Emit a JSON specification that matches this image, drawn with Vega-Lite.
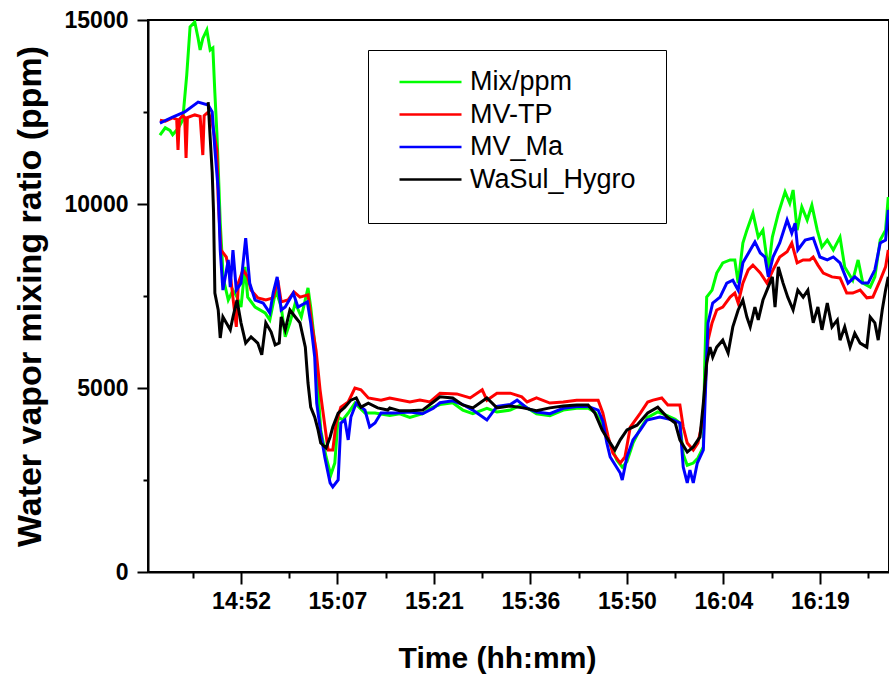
{
  "$schema": "https://vega.github.io/schema/vega-lite/v6.json",
  "width": 741,
  "height": 552,
  "autosize": {"type": "none"},
  "padding": {"left": 148, "top": 20, "right": 0, "bottom": 112},
  "background": "white",
  "config": {"font": "Liberation Sans", "view": {"stroke": "black", "strokeWidth": 2}},
  "data": {"values": [
    {"s":"Mix/ppm","t":880.7,"v":11870},{"s":"Mix/ppm","t":881.5,"v":12070},{"s":"Mix/ppm","t":882.2,"v":12000},{"s":"Mix/ppm","t":882.6,"v":11880},{"s":"Mix/ppm","t":883.4,"v":12050},{"s":"Mix/ppm","t":884.1,"v":12280},{"s":"Mix/ppm","t":884.7,"v":13500},{"s":"Mix/ppm","t":885.2,"v":14810},{"s":"Mix/ppm","t":885.9,"v":14945},{"s":"Mix/ppm","t":886.4,"v":14500},{"s":"Mix/ppm","t":886.7,"v":14185},{"s":"Mix/ppm","t":887.1,"v":14500},{"s":"Mix/ppm","t":887.7,"v":14728},{"s":"Mix/ppm","t":888.2,"v":14185},{"s":"Mix/ppm","t":888.6,"v":14240},{"s":"Mix/ppm","t":888.9,"v":13015},{"s":"Mix/ppm","t":889.2,"v":11930},{"s":"Mix/ppm","t":889.4,"v":11000},{"s":"Mix/ppm","t":889.7,"v":9500},{"s":"Mix/ppm","t":890.0,"v":8500},{"s":"Mix/ppm","t":890.1,"v":8020},{"s":"Mix/ppm","t":890.9,"v":7390},{"s":"Mix/ppm","t":891.6,"v":7660},{"s":"Mix/ppm","t":892.2,"v":7470},{"s":"Mix/ppm","t":892.8,"v":7200},{"s":"Mix/ppm","t":893.4,"v":8290},{"s":"Mix/ppm","t":893.8,"v":7470},{"s":"Mix/ppm","t":894.9,"v":7200},{"s":"Mix/ppm","t":896.4,"v":7040},{"s":"Mix/ppm","t":897.1,"v":6850},{"s":"Mix/ppm","t":898.0,"v":7660},{"s":"Mix/ppm","t":898.8,"v":7200},{"s":"Mix/ppm","t":899.4,"v":6390},{"s":"Mix/ppm","t":900.1,"v":6770},{"s":"Mix/ppm","t":900.9,"v":7310},{"s":"Mix/ppm","t":901.8,"v":6930},{"s":"Mix/ppm","t":902.8,"v":7720},{"s":"Mix/ppm","t":903.2,"v":7200},{"s":"Mix/ppm","t":903.8,"v":6220},{"s":"Mix/ppm","t":904.3,"v":4950},{"s":"Mix/ppm","t":904.7,"v":3860},{"s":"Mix/ppm","t":905.5,"v":3125},{"s":"Mix/ppm","t":906.2,"v":2635},{"s":"Mix/ppm","t":906.8,"v":2960},{"s":"Mix/ppm","t":907.3,"v":4210},{"s":"Mix/ppm","t":908.0,"v":4130},{"s":"Mix/ppm","t":908.8,"v":4320},{"s":"Mix/ppm","t":909.8,"v":4590},{"s":"Mix/ppm","t":911.3,"v":4320},{"s":"Mix/ppm","t":912.8,"v":4320},{"s":"Mix/ppm","t":915.0,"v":4250},{"s":"Mix/ppm","t":916.5,"v":4300},{"s":"Mix/ppm","t":918.0,"v":4200},{"s":"Mix/ppm","t":919.9,"v":4300},{"s":"Mix/ppm","t":921.0,"v":4450},{"s":"Mix/ppm","t":922.5,"v":4550},{"s":"Mix/ppm","t":924.4,"v":4600},{"s":"Mix/ppm","t":925.9,"v":4400},{"s":"Mix/ppm","t":927.4,"v":4300},{"s":"Mix/ppm","t":929.5,"v":4450},{"s":"Mix/ppm","t":931.0,"v":4350},{"s":"Mix/ppm","t":933.0,"v":4400},{"s":"Mix/ppm","t":934.7,"v":4550},{"s":"Mix/ppm","t":936.9,"v":4300},{"s":"Mix/ppm","t":938.9,"v":4250},{"s":"Mix/ppm","t":940.9,"v":4400},{"s":"Mix/ppm","t":942.9,"v":4450},{"s":"Mix/ppm","t":944.6,"v":4450},{"s":"Mix/ppm","t":945.6,"v":4350},{"s":"Mix/ppm","t":946.8,"v":4000},{"s":"Mix/ppm","t":947.6,"v":3600},{"s":"Mix/ppm","t":948.9,"v":3040},{"s":"Mix/ppm","t":949.7,"v":2850},{"s":"Mix/ppm","t":950.4,"v":3000},{"s":"Mix/ppm","t":951.3,"v":3500},{"s":"Mix/ppm","t":952.4,"v":3900},{"s":"Mix/ppm","t":953.5,"v":4200},{"s":"Mix/ppm","t":955.0,"v":4350},{"s":"Mix/ppm","t":956.4,"v":4250},{"s":"Mix/ppm","t":957.6,"v":4150},{"s":"Mix/ppm","t":958.3,"v":4050},{"s":"Mix/ppm","t":958.8,"v":3200},{"s":"Mix/ppm","t":959.4,"v":2900},{"s":"Mix/ppm","t":960.3,"v":2960},{"s":"Mix/ppm","t":961.0,"v":3100},{"s":"Mix/ppm","t":961.8,"v":3400},{"s":"Mix/ppm","t":962.0,"v":5570},{"s":"Mix/ppm","t":962.3,"v":7470},{"s":"Mix/ppm","t":963.1,"v":7660},{"s":"Mix/ppm","t":963.8,"v":8125},{"s":"Mix/ppm","t":964.7,"v":8400},{"s":"Mix/ppm","t":965.8,"v":8480},{"s":"Mix/ppm","t":966.5,"v":8480},{"s":"Mix/ppm","t":967.0,"v":7850},{"s":"Mix/ppm","t":967.7,"v":8940},{"s":"Mix/ppm","t":968.3,"v":9290},{"s":"Mix/ppm","t":969.2,"v":9750},{"s":"Mix/ppm","t":970.0,"v":9100},{"s":"Mix/ppm","t":970.7,"v":9290},{"s":"Mix/ppm","t":971.5,"v":8210},{"s":"Mix/ppm","t":972.1,"v":9100},{"s":"Mix/ppm","t":973.0,"v":9750},{"s":"Mix/ppm","t":974.0,"v":10330},{"s":"Mix/ppm","t":974.7,"v":10020},{"s":"Mix/ppm","t":975.2,"v":10380},{"s":"Mix/ppm","t":975.8,"v":9290},{"s":"Mix/ppm","t":976.5,"v":9920},{"s":"Mix/ppm","t":977.3,"v":9565},{"s":"Mix/ppm","t":978.0,"v":9970},{"s":"Mix/ppm","t":978.8,"v":9290},{"s":"Mix/ppm","t":979.5,"v":8830},{"s":"Mix/ppm","t":980.3,"v":9020},{"s":"Mix/ppm","t":981.2,"v":8750},{"s":"Mix/ppm","t":982.2,"v":9100},{"s":"Mix/ppm","t":982.9,"v":8290},{"s":"Mix/ppm","t":984.1,"v":7930},{"s":"Mix/ppm","t":984.9,"v":8480},{"s":"Mix/ppm","t":985.6,"v":7850},{"s":"Mix/ppm","t":986.7,"v":7740},{"s":"Mix/ppm","t":987.4,"v":8020},{"s":"Mix/ppm","t":988.2,"v":9020},{"s":"Mix/ppm","t":989.0,"v":9290},{"s":"Mix/ppm","t":989.4,"v":10190},
    {"s":"MV-TP","t":880.7,"v":12280},{"s":"MV-TP","t":881.5,"v":12250},{"s":"MV-TP","t":882.6,"v":12340},{"s":"MV-TP","t":883.2,"v":12300},{"s":"MV-TP","t":883.4,"v":11470},{"s":"MV-TP","t":883.6,"v":12300},{"s":"MV-TP","t":884.1,"v":12400},{"s":"MV-TP","t":884.4,"v":12350},{"s":"MV-TP","t":884.6,"v":11250},{"s":"MV-TP","t":884.8,"v":12350},{"s":"MV-TP","t":885.9,"v":12420},{"s":"MV-TP","t":886.7,"v":12380},{"s":"MV-TP","t":887.1,"v":11330},{"s":"MV-TP","t":887.3,"v":12400},{"s":"MV-TP","t":887.9,"v":12500},{"s":"MV-TP","t":888.5,"v":12200},{"s":"MV-TP","t":889.2,"v":11470},{"s":"MV-TP","t":889.4,"v":10110},{"s":"MV-TP","t":889.8,"v":8750},{"s":"MV-TP","t":890.6,"v":8560},{"s":"MV-TP","t":891.3,"v":7930},{"s":"MV-TP","t":892.1,"v":6660},{"s":"MV-TP","t":892.4,"v":7850},{"s":"MV-TP","t":893.1,"v":8210},{"s":"MV-TP","t":893.8,"v":8020},{"s":"MV-TP","t":894.3,"v":7660},{"s":"MV-TP","t":895.3,"v":7450},{"s":"MV-TP","t":896.5,"v":7390},{"s":"MV-TP","t":897.6,"v":7450},{"s":"MV-TP","t":898.3,"v":7930},{"s":"MV-TP","t":898.8,"v":7340},{"s":"MV-TP","t":899.8,"v":7390},{"s":"MV-TP","t":900.7,"v":7610},{"s":"MV-TP","t":901.6,"v":7470},{"s":"MV-TP","t":902.8,"v":7530},{"s":"MV-TP","t":903.5,"v":6580},{"s":"MV-TP","t":904.0,"v":6030},{"s":"MV-TP","t":904.6,"v":4950},{"s":"MV-TP","t":905.0,"v":4400},{"s":"MV-TP","t":905.8,"v":3315},{"s":"MV-TP","t":906.5,"v":3315},{"s":"MV-TP","t":907.0,"v":4050},{"s":"MV-TP","t":907.7,"v":4480},{"s":"MV-TP","t":908.8,"v":4620},{"s":"MV-TP","t":909.8,"v":5000},{"s":"MV-TP","t":910.7,"v":4950},{"s":"MV-TP","t":911.8,"v":4730},{"s":"MV-TP","t":913.7,"v":4670},{"s":"MV-TP","t":915.0,"v":4730},{"s":"MV-TP","t":918.0,"v":4620},{"s":"MV-TP","t":919.5,"v":4670},{"s":"MV-TP","t":921.0,"v":4620},{"s":"MV-TP","t":922.5,"v":4860},{"s":"MV-TP","t":925.0,"v":4840},{"s":"MV-TP","t":927.0,"v":4730},{"s":"MV-TP","t":928.8,"v":4950},{"s":"MV-TP","t":929.5,"v":4670},{"s":"MV-TP","t":931.0,"v":4860},{"s":"MV-TP","t":933.0,"v":4860},{"s":"MV-TP","t":934.7,"v":4760},{"s":"MV-TP","t":935.5,"v":4620},{"s":"MV-TP","t":936.9,"v":4730},{"s":"MV-TP","t":938.9,"v":4590},{"s":"MV-TP","t":940.9,"v":4620},{"s":"MV-TP","t":942.9,"v":4670},{"s":"MV-TP","t":944.9,"v":4670},{"s":"MV-TP","t":946.1,"v":4670},{"s":"MV-TP","t":946.8,"v":4320},{"s":"MV-TP","t":947.6,"v":3670},{"s":"MV-TP","t":948.3,"v":3230},{"s":"MV-TP","t":949.4,"v":2960},{"s":"MV-TP","t":950.1,"v":3125},{"s":"MV-TP","t":950.9,"v":3940},{"s":"MV-TP","t":952.4,"v":4320},{"s":"MV-TP","t":953.5,"v":4620},{"s":"MV-TP","t":954.3,"v":4670},{"s":"MV-TP","t":955.6,"v":4730},{"s":"MV-TP","t":956.5,"v":4540},{"s":"MV-TP","t":958.3,"v":4540},{"s":"MV-TP","t":958.8,"v":3940},{"s":"MV-TP","t":959.4,"v":3505},{"s":"MV-TP","t":960.3,"v":3315},{"s":"MV-TP","t":961.0,"v":3505},{"s":"MV-TP","t":961.8,"v":4210},{"s":"MV-TP","t":962.3,"v":5680},{"s":"MV-TP","t":962.5,"v":6300},{"s":"MV-TP","t":963.1,"v":6770},{"s":"MV-TP","t":963.8,"v":7120},{"s":"MV-TP","t":964.7,"v":7200},{"s":"MV-TP","t":965.8,"v":7470},{"s":"MV-TP","t":966.5,"v":7580},{"s":"MV-TP","t":967.0,"v":7310},{"s":"MV-TP","t":967.7,"v":7850},{"s":"MV-TP","t":968.5,"v":8210},{"s":"MV-TP","t":969.2,"v":8340},{"s":"MV-TP","t":970.3,"v":8125},{"s":"MV-TP","t":971.3,"v":7850},{"s":"MV-TP","t":972.2,"v":8210},{"s":"MV-TP","t":973.2,"v":8560},{"s":"MV-TP","t":974.3,"v":8700},{"s":"MV-TP","t":975.0,"v":8940},{"s":"MV-TP","t":975.8,"v":8400},{"s":"MV-TP","t":976.7,"v":8480},{"s":"MV-TP","t":977.7,"v":8480},{"s":"MV-TP","t":978.2,"v":8560},{"s":"MV-TP","t":978.9,"v":8340},{"s":"MV-TP","t":979.7,"v":8125},{"s":"MV-TP","t":981.0,"v":8020},{"s":"MV-TP","t":982.2,"v":7990},{"s":"MV-TP","t":983.2,"v":7580},{"s":"MV-TP","t":984.1,"v":7580},{"s":"MV-TP","t":985.2,"v":7660},{"s":"MV-TP","t":986.2,"v":7450},{"s":"MV-TP","t":987.1,"v":7470},{"s":"MV-TP","t":988.2,"v":7930},{"s":"MV-TP","t":989.0,"v":8290},{"s":"MV-TP","t":989.4,"v":8750},
    {"s":"MV_Ma","t":880.7,"v":12200},{"s":"MV_Ma","t":882.6,"v":12364},{"s":"MV_Ma","t":884.4,"v":12500},{"s":"MV_Ma","t":886.4,"v":12770},{"s":"MV_Ma","t":887.9,"v":12690},{"s":"MV_Ma","t":888.5,"v":12500},{"s":"MV_Ma","t":888.9,"v":11500},{"s":"MV_Ma","t":889.4,"v":10380},{"s":"MV_Ma","t":889.7,"v":8750},{"s":"MV_Ma","t":890.1,"v":7660},{"s":"MV_Ma","t":890.9,"v":8480},{"s":"MV_Ma","t":891.2,"v":7740},{"s":"MV_Ma","t":891.6,"v":8750},{"s":"MV_Ma","t":892.1,"v":7660},{"s":"MV_Ma","t":892.8,"v":7850},{"s":"MV_Ma","t":893.5,"v":9075},{"s":"MV_Ma","t":894.1,"v":7850},{"s":"MV_Ma","t":894.9,"v":7390},{"s":"MV_Ma","t":896.1,"v":7310},{"s":"MV_Ma","t":897.1,"v":7040},{"s":"MV_Ma","t":897.6,"v":7580},{"s":"MV_Ma","t":898.2,"v":8020},{"s":"MV_Ma","t":898.8,"v":7120},{"s":"MV_Ma","t":899.4,"v":7200},{"s":"MV_Ma","t":900.6,"v":7580},{"s":"MV_Ma","t":901.3,"v":7200},{"s":"MV_Ma","t":902.7,"v":7340},{"s":"MV_Ma","t":903.2,"v":6770},{"s":"MV_Ma","t":903.8,"v":5840},{"s":"MV_Ma","t":904.1,"v":4590},{"s":"MV_Ma","t":904.7,"v":3780},{"s":"MV_Ma","t":905.3,"v":3125},{"s":"MV_Ma","t":906.1,"v":2420},{"s":"MV_Ma","t":906.5,"v":2310},{"s":"MV_Ma","t":907.3,"v":2500},{"s":"MV_Ma","t":907.7,"v":4050},{"s":"MV_Ma","t":908.3,"v":4130},{"s":"MV_Ma","t":908.8,"v":3590},{"s":"MV_Ma","t":909.2,"v":4210},{"s":"MV_Ma","t":910.0,"v":4590},{"s":"MV_Ma","t":911.3,"v":4400},{"s":"MV_Ma","t":912.0,"v":3940},{"s":"MV_Ma","t":912.8,"v":4050},{"s":"MV_Ma","t":913.7,"v":4320},{"s":"MV_Ma","t":915.9,"v":4320},{"s":"MV_Ma","t":918.0,"v":4350},{"s":"MV_Ma","t":919.9,"v":4300},{"s":"MV_Ma","t":921.5,"v":4450},{"s":"MV_Ma","t":922.5,"v":4600},{"s":"MV_Ma","t":924.4,"v":4650},{"s":"MV_Ma","t":925.9,"v":4550},{"s":"MV_Ma","t":927.4,"v":4400},{"s":"MV_Ma","t":929.5,"v":4130},{"s":"MV_Ma","t":931.0,"v":4500},{"s":"MV_Ma","t":933.0,"v":4550},{"s":"MV_Ma","t":934.0,"v":4670},{"s":"MV_Ma","t":935.5,"v":4450},{"s":"MV_Ma","t":936.9,"v":4350},{"s":"MV_Ma","t":938.9,"v":4300},{"s":"MV_Ma","t":940.9,"v":4450},{"s":"MV_Ma","t":942.9,"v":4500},{"s":"MV_Ma","t":944.6,"v":4500},{"s":"MV_Ma","t":946.1,"v":4400},{"s":"MV_Ma","t":946.8,"v":4100},{"s":"MV_Ma","t":947.4,"v":3505},{"s":"MV_Ma","t":947.9,"v":3125},{"s":"MV_Ma","t":949.4,"v":2690},{"s":"MV_Ma","t":949.7,"v":2500},{"s":"MV_Ma","t":950.4,"v":3125},{"s":"MV_Ma","t":951.3,"v":3590},{"s":"MV_Ma","t":952.4,"v":3860},{"s":"MV_Ma","t":953.4,"v":4130},{"s":"MV_Ma","t":955.3,"v":4210},{"s":"MV_Ma","t":957.3,"v":4130},{"s":"MV_Ma","t":958.3,"v":4050},{"s":"MV_Ma","t":958.8,"v":2850},{"s":"MV_Ma","t":959.4,"v":2420},{"s":"MV_Ma","t":959.8,"v":2770},{"s":"MV_Ma","t":960.3,"v":2420},{"s":"MV_Ma","t":960.9,"v":2960},{"s":"MV_Ma","t":961.8,"v":3315},{"s":"MV_Ma","t":962.3,"v":5840},{"s":"MV_Ma","t":962.5,"v":6770},{"s":"MV_Ma","t":963.2,"v":7310},{"s":"MV_Ma","t":964.3,"v":7470},{"s":"MV_Ma","t":965.3,"v":7850},{"s":"MV_Ma","t":966.2,"v":7930},{"s":"MV_Ma","t":967.0,"v":7660},{"s":"MV_Ma","t":967.7,"v":8400},{"s":"MV_Ma","t":968.8,"v":8750},{"s":"MV_Ma","t":969.5,"v":8970},{"s":"MV_Ma","t":970.3,"v":8670},{"s":"MV_Ma","t":971.0,"v":8560},{"s":"MV_Ma","t":971.5,"v":8020},{"s":"MV_Ma","t":972.2,"v":8560},{"s":"MV_Ma","t":973.2,"v":8940},{"s":"MV_Ma","t":974.3,"v":9565},{"s":"MV_Ma","t":975.0,"v":9210},{"s":"MV_Ma","t":975.5,"v":9480},{"s":"MV_Ma","t":975.9,"v":8750},{"s":"MV_Ma","t":977.0,"v":9020},{"s":"MV_Ma","t":978.2,"v":9075},{"s":"MV_Ma","t":979.2,"v":8560},{"s":"MV_Ma","t":980.3,"v":8480},{"s":"MV_Ma","t":981.2,"v":8560},{"s":"MV_Ma","t":982.2,"v":8400},{"s":"MV_Ma","t":983.4,"v":7850},{"s":"MV_Ma","t":984.4,"v":8020},{"s":"MV_Ma","t":985.5,"v":7850},{"s":"MV_Ma","t":986.4,"v":7850},{"s":"MV_Ma","t":987.4,"v":8210},{"s":"MV_Ma","t":988.2,"v":8940},{"s":"MV_Ma","t":989.0,"v":9020},{"s":"MV_Ma","t":989.4,"v":9840},
    {"s":"WaSul_Hygro","t":887.9,"v":12770},{"s":"WaSul_Hygro","t":888.2,"v":11800},{"s":"WaSul_Hygro","t":888.5,"v":10870},{"s":"WaSul_Hygro","t":888.7,"v":9800},{"s":"WaSul_Hygro","t":888.9,"v":7580},{"s":"WaSul_Hygro","t":889.4,"v":7120},{"s":"WaSul_Hygro","t":889.7,"v":6360},{"s":"WaSul_Hygro","t":890.1,"v":6930},{"s":"WaSul_Hygro","t":890.6,"v":6770},{"s":"WaSul_Hygro","t":891.2,"v":6580},{"s":"WaSul_Hygro","t":891.6,"v":6930},{"s":"WaSul_Hygro","t":892.2,"v":7390},{"s":"WaSul_Hygro","t":892.8,"v":6770},{"s":"WaSul_Hygro","t":893.5,"v":6220},{"s":"WaSul_Hygro","t":894.3,"v":6390},{"s":"WaSul_Hygro","t":895.3,"v":6220},{"s":"WaSul_Hygro","t":895.9,"v":5900},{"s":"WaSul_Hygro","t":896.5,"v":6770},{"s":"WaSul_Hygro","t":897.3,"v":6520},{"s":"WaSul_Hygro","t":897.9,"v":6170},{"s":"WaSul_Hygro","t":898.5,"v":6220},{"s":"WaSul_Hygro","t":898.8,"v":6930},{"s":"WaSul_Hygro","t":899.4,"v":6580},{"s":"WaSul_Hygro","t":900.1,"v":7120},{"s":"WaSul_Hygro","t":900.9,"v":6930},{"s":"WaSul_Hygro","t":901.6,"v":6770},{"s":"WaSul_Hygro","t":902.4,"v":6110},{"s":"WaSul_Hygro","t":902.8,"v":5135},{"s":"WaSul_Hygro","t":903.2,"v":4480},{"s":"WaSul_Hygro","t":903.8,"v":4210},{"s":"WaSul_Hygro","t":904.3,"v":3860},{"s":"WaSul_Hygro","t":904.7,"v":3505},{"s":"WaSul_Hygro","t":905.5,"v":3370},{"s":"WaSul_Hygro","t":906.1,"v":3670},{"s":"WaSul_Hygro","t":906.5,"v":3940},{"s":"WaSul_Hygro","t":907.3,"v":4320},{"s":"WaSul_Hygro","t":908.3,"v":4480},{"s":"WaSul_Hygro","t":909.2,"v":4670},{"s":"WaSul_Hygro","t":910.0,"v":4730},{"s":"WaSul_Hygro","t":910.7,"v":4480},{"s":"WaSul_Hygro","t":911.8,"v":4590},{"s":"WaSul_Hygro","t":913.2,"v":4460},{"s":"WaSul_Hygro","t":914.7,"v":4400},{"s":"WaSul_Hygro","t":915.0,"v":4460},{"s":"WaSul_Hygro","t":916.5,"v":4380},{"s":"WaSul_Hygro","t":918.0,"v":4380},{"s":"WaSul_Hygro","t":919.9,"v":4400},{"s":"WaSul_Hygro","t":921.5,"v":4620},{"s":"WaSul_Hygro","t":922.5,"v":4760},{"s":"WaSul_Hygro","t":924.4,"v":4730},{"s":"WaSul_Hygro","t":925.9,"v":4540},{"s":"WaSul_Hygro","t":927.4,"v":4460},{"s":"WaSul_Hygro","t":929.5,"v":4730},{"s":"WaSul_Hygro","t":931.0,"v":4460},{"s":"WaSul_Hygro","t":933.0,"v":4510},{"s":"WaSul_Hygro","t":934.9,"v":4460},{"s":"WaSul_Hygro","t":936.9,"v":4380},{"s":"WaSul_Hygro","t":938.9,"v":4460},{"s":"WaSul_Hygro","t":940.9,"v":4510},{"s":"WaSul_Hygro","t":942.9,"v":4540},{"s":"WaSul_Hygro","t":944.6,"v":4540},{"s":"WaSul_Hygro","t":945.6,"v":4320},{"s":"WaSul_Hygro","t":946.7,"v":3860},{"s":"WaSul_Hygro","t":947.6,"v":3590},{"s":"WaSul_Hygro","t":948.6,"v":3315},{"s":"WaSul_Hygro","t":949.4,"v":3590},{"s":"WaSul_Hygro","t":950.4,"v":3860},{"s":"WaSul_Hygro","t":951.9,"v":3990},{"s":"WaSul_Hygro","t":953.5,"v":4320},{"s":"WaSul_Hygro","t":955.0,"v":4480},{"s":"WaSul_Hygro","t":956.4,"v":4210},{"s":"WaSul_Hygro","t":957.6,"v":4050},{"s":"WaSul_Hygro","t":958.3,"v":3590},{"s":"WaSul_Hygro","t":959.4,"v":3260},{"s":"WaSul_Hygro","t":960.3,"v":3400},{"s":"WaSul_Hygro","t":961.3,"v":3670},{"s":"WaSul_Hygro","t":961.8,"v":4590},{"s":"WaSul_Hygro","t":962.3,"v":5680},{"s":"WaSul_Hygro","t":962.8,"v":6110},{"s":"WaSul_Hygro","t":963.2,"v":5840},{"s":"WaSul_Hygro","t":963.8,"v":6110},{"s":"WaSul_Hygro","t":964.7,"v":6300},{"s":"WaSul_Hygro","t":965.5,"v":5950},{"s":"WaSul_Hygro","t":966.2,"v":6660},{"s":"WaSul_Hygro","t":967.0,"v":7120},{"s":"WaSul_Hygro","t":967.7,"v":7390},{"s":"WaSul_Hygro","t":968.3,"v":6930},{"s":"WaSul_Hygro","t":968.8,"v":6660},{"s":"WaSul_Hygro","t":969.5,"v":7200},{"s":"WaSul_Hygro","t":970.0,"v":6850},{"s":"WaSul_Hygro","t":970.7,"v":7390},{"s":"WaSul_Hygro","t":971.3,"v":7660},{"s":"WaSul_Hygro","t":972.1,"v":8020},{"s":"WaSul_Hygro","t":972.5,"v":7200},{"s":"WaSul_Hygro","t":973.0,"v":8290},{"s":"WaSul_Hygro","t":973.7,"v":7850},{"s":"WaSul_Hygro","t":974.4,"v":7470},{"s":"WaSul_Hygro","t":975.2,"v":7120},{"s":"WaSul_Hygro","t":975.9,"v":7660},{"s":"WaSul_Hygro","t":976.7,"v":7470},{"s":"WaSul_Hygro","t":977.4,"v":7660},{"s":"WaSul_Hygro","t":978.2,"v":6770},{"s":"WaSul_Hygro","t":978.9,"v":7200},{"s":"WaSul_Hygro","t":979.5,"v":6580},{"s":"WaSul_Hygro","t":980.3,"v":7310},{"s":"WaSul_Hygro","t":981.0,"v":6660},{"s":"WaSul_Hygro","t":981.8,"v":6850},{"s":"WaSul_Hygro","t":982.2,"v":6300},{"s":"WaSul_Hygro","t":982.9,"v":6660},{"s":"WaSul_Hygro","t":983.7,"v":6110},{"s":"WaSul_Hygro","t":984.4,"v":6490},{"s":"WaSul_Hygro","t":985.2,"v":6220},{"s":"WaSul_Hygro","t":986.2,"v":6110},{"s":"WaSul_Hygro","t":986.7,"v":6930},{"s":"WaSul_Hygro","t":987.4,"v":6770},{"s":"WaSul_Hygro","t":987.9,"v":6300},{"s":"WaSul_Hygro","t":988.5,"v":7120},{"s":"WaSul_Hygro","t":989.0,"v":7660},{"s":"WaSul_Hygro","t":989.4,"v":8020}
  ]},
  "mark": {"type": "line", "strokeWidth": 3, "clip": true},
  "encoding": {
    "x": {
      "field": "t", "type": "quantitative",
      "scale": {"domain": [878.92, 989.51], "nice": false, "zero": false},
      "axis": {
        "values": [885.6, 892.8, 900, 907.2, 914.4, 921.6, 928.8, 936, 943.2, 950.4, 957.6, 964.8, 972, 979.2, 986.4],
        "labelExpr": "abs(datum.value/14.4 - round(datum.value/14.4)) < 0.01 ? (floor(datum.value/60) + ':' + (floor(datum.value % 60) < 10 ? '0' : '') + floor(datum.value % 60)) : ''",
        "tickSize": {"condition": {"test": "abs(datum.value/14.4 - round(datum.value/14.4)) < 0.01", "value": 12}, "value": 6},
        "grid": false,
        "domainColor": "black", "domainWidth": 2,
        "tickColor": "black", "tickWidth": 2,
        "labelFont": "Liberation Sans", "labelFontWeight": "bold", "labelFontSize": 23, "labelColor": "black",
        "labelPadding": 6, "labelFlush": false, "labelOverlap": false,
        "title": "Time (hh:mm)",
        "titleFont": "Liberation Sans", "titleFontWeight": "bold", "titleFontSize": 30, "titleColor": "black",
        "titleX": 349, "titleY": 95, "titleBaseline": "alphabetic", "titleAlign": "center"
      }
    },
    "y": {
      "field": "v", "type": "quantitative",
      "scale": {"domain": [0, 15000], "nice": false},
      "axis": {
        "values": [0, 2500, 5000, 7500, 10000, 12500, 15000],
        "format": "d",
        "labelExpr": "datum.value % 5000 == 0 ? datum.label : ''",
        "tickSize": {"condition": {"test": "datum.value % 5000 == 0", "value": 11}, "value": 5},
        "grid": false,
        "domainColor": "black", "domainWidth": 2,
        "tickColor": "black", "tickWidth": 2,
        "labelFont": "Liberation Sans", "labelFontWeight": "bold", "labelFontSize": 23, "labelColor": "black",
        "labelPadding": 9, "labelFlush": false, "labelOverlap": false,
        "title": "Water vapor mixing ratio (ppm)",
        "titleFont": "Liberation Sans", "titleFontWeight": "bold", "titleFontSize": 34, "titleColor": "black",
        "titleX": -108, "titleY": 276, "titleAngle": -90, "titleBaseline": "alphabetic", "titleAlign": "center"
      }
    },
    "color": {
      "field": "s", "type": "nominal",
      "scale": {"domain": ["Mix/ppm", "MV-TP", "MV_Ma", "WaSul_Hygro"], "range": ["#00ff00", "#ff0000", "#0000ff", "#000000"]},
      "legend": {
        "orient": "none", "legendX": 220, "legendY": 30, "title": null,
        "symbolType": "stroke", "symbolSize": 3844, "symbolStrokeWidth": 2.5,
        "labelFont": "Liberation Sans", "labelFontSize": 27, "labelColor": "black", "labelLimit": 400,
        "strokeColor": "black", "fillColor": "white",
        "padding": 30, "symbolOffset": 0, "labelOffset": 7,
        "clipHeight": 4, "rowPadding": 5.5
      }
    }
  }
}
